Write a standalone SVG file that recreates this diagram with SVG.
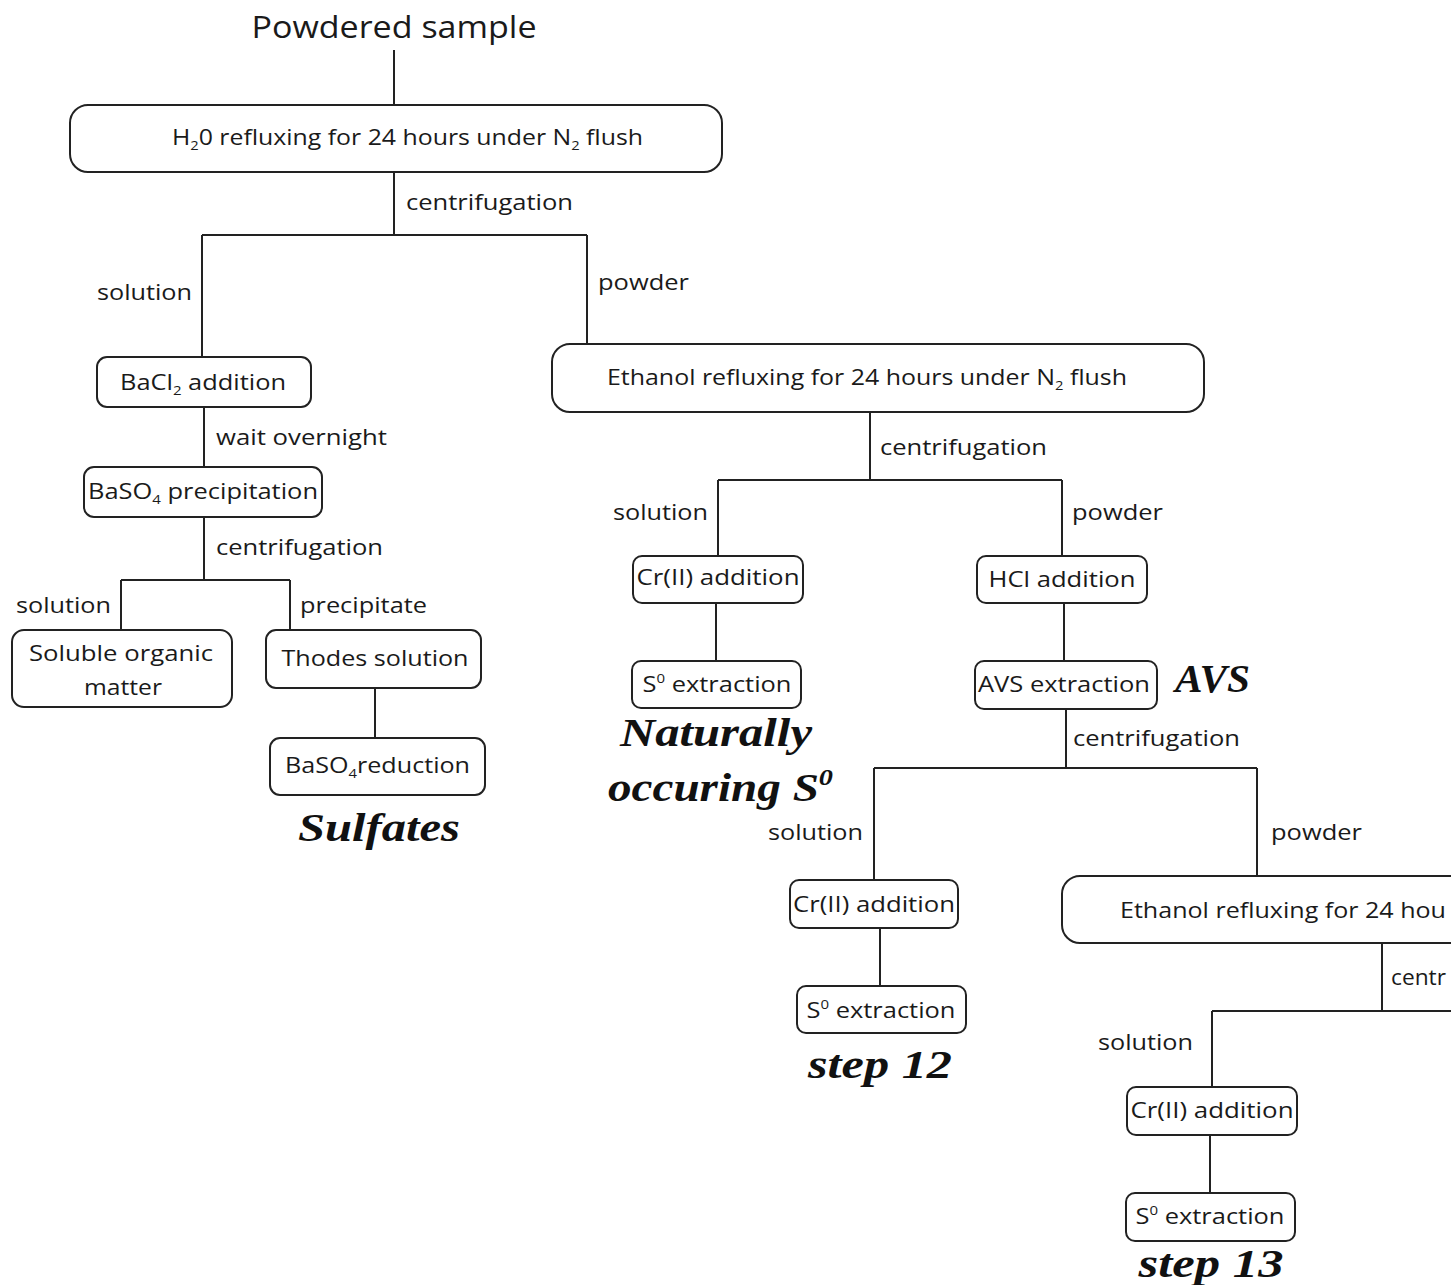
<svg xmlns="http://www.w3.org/2000/svg" width="1451" height="1285" viewBox="0 0 1451 1285">
<style>
.box{fill:#fff;stroke:#222;stroke-width:2}
.ln{fill:none;stroke:#222;stroke-width:2}
.t{font-family:"Open Sans","Liberation Sans",sans-serif;font-size:22px;fill:#1a1a1a}
.c{text-anchor:middle}
.big{font-family:"Liberation Serif",serif;font-weight:bold;font-style:italic;font-size:40px;fill:#111}
.sub{font-size:13px}
</style>
<rect width="1451" height="1285" fill="#fff"/>
<g id="connectors">
<path class="ln" d="M394 50V105M394 172V235M202 235H587M202 235V357M587 235V344"/>
<path class="ln" d="M204 407V467M204 517V580M121 580H290M121 580V630M290 580V630M375 688V738"/>
<path class="ln" d="M870 412V480M718 480H1062M718 480V556M1062 480V556M716 603V661M1064 603V661"/>
<path class="ln" d="M1066 709V768M874 768H1257M874 768V880M1257 768V876M880 928V986"/>
<path class="ln" d="M1382 943V1011M1212 1011H1451M1212 1011V1087M1210 1135V1193"/>
<text class="t" x="406" y="210" textLength="167" lengthAdjust="spacingAndGlyphs">centrifugation</text>
<text class="t" x="97" y="300" textLength="95" lengthAdjust="spacingAndGlyphs">solution</text>
<text class="t" x="598" y="290" textLength="91" lengthAdjust="spacingAndGlyphs">powder</text>
<text class="t" x="216" y="445" textLength="171" lengthAdjust="spacingAndGlyphs">wait overnight</text>
<text class="t" x="216" y="555" textLength="167" lengthAdjust="spacingAndGlyphs">centrifugation</text>
<text class="t" x="16" y="613" textLength="95" lengthAdjust="spacingAndGlyphs">solution</text>
<text class="t" x="300" y="613" textLength="127" lengthAdjust="spacingAndGlyphs">precipitate</text>
<text class="t" x="880" y="455" textLength="167" lengthAdjust="spacingAndGlyphs">centrifugation</text>
<text class="t" x="613" y="520" textLength="95" lengthAdjust="spacingAndGlyphs">solution</text>
<text class="t" x="1072" y="520" textLength="91" lengthAdjust="spacingAndGlyphs">powder</text>
<text class="t" x="1073" y="746" textLength="167" lengthAdjust="spacingAndGlyphs">centrifugation</text>
<text class="t" x="768" y="840" textLength="95" lengthAdjust="spacingAndGlyphs">solution</text>
<text class="t" x="1271" y="840" textLength="91" lengthAdjust="spacingAndGlyphs">powder</text>
<text class="t" x="1391" y="985" textLength="55" lengthAdjust="spacingAndGlyphs">centr</text>
<text class="t" x="1098" y="1050" textLength="95" lengthAdjust="spacingAndGlyphs">solution</text>
</g>
<g id="title"><text class="t" x="394" y="38" style="font-size:31px" text-anchor="middle" textLength="285" lengthAdjust="spacingAndGlyphs">Powdered sample</text></g>
<g id="n-h2o"><rect class="box" x="70" y="105" width="652" height="67" rx="18"/>
<text class="t" x="172" y="145" textLength="471" lengthAdjust="spacingAndGlyphs">H<tspan class="sub" dy="5">2</tspan><tspan dy="-5">0 refluxing for 24 hours under N</tspan><tspan class="sub" dy="5">2</tspan><tspan dy="-5"> flush</tspan></text></g>
<g id="n-bacl2"><rect class="box" x="97" y="357" width="214" height="50" rx="10"/>
<text class="t" x="120" y="390" textLength="166" lengthAdjust="spacingAndGlyphs">BaCl<tspan class="sub" dy="5">2</tspan><tspan dy="-5"> addition</tspan></text></g>
<g id="n-baso4p"><rect class="box" x="84" y="467" width="238" height="50" rx="10"/>
<text class="t" x="88" y="499" textLength="230" lengthAdjust="spacingAndGlyphs">BaSO<tspan class="sub" dy="5">4</tspan><tspan dy="-5"> precipitation</tspan></text></g>
<g id="n-som"><rect class="box" x="12" y="630" width="220" height="77" rx="12"/>
<text class="t c" x="121" y="661" textLength="184" lengthAdjust="spacingAndGlyphs">Soluble organic</text>
<text class="t c" x="123" y="695" textLength="78" lengthAdjust="spacingAndGlyphs">matter</text></g>
<g id="n-thodes"><rect class="box" x="266" y="630" width="215" height="58" rx="10"/>
<text class="t c" x="375" y="666" textLength="187" lengthAdjust="spacingAndGlyphs">Thodes solution</text></g>
<g id="n-baso4r"><rect class="box" x="270" y="738" width="215" height="57" rx="10"/>
<text class="t" x="285" y="773" textLength="185" lengthAdjust="spacingAndGlyphs">BaSO<tspan class="sub" dy="5">4</tspan><tspan dy="-5">reduction</tspan></text></g>
<g id="l-sulfates"><text class="big c" x="379" y="841" textLength="162" lengthAdjust="spacingAndGlyphs">Sulfates</text></g>
<g id="n-eth1"><rect class="box" x="552" y="344" width="652" height="68" rx="18"/>
<text class="t" x="607" y="385" textLength="520" lengthAdjust="spacingAndGlyphs">Ethanol refluxing for 24 hours under N<tspan class="sub" dy="5">2</tspan><tspan dy="-5"> flush</tspan></text></g>
<g id="n-cr1"><rect class="box" x="633" y="556" width="170" height="47" rx="9"/>
<text class="t c" x="718" y="585" textLength="163" lengthAdjust="spacingAndGlyphs">Cr(II) addition</text></g>
<g id="n-s01"><rect class="box" x="632" y="661" width="169" height="47" rx="9"/>
<text class="t c" x="717" y="692" textLength="149" lengthAdjust="spacingAndGlyphs">S<tspan class="sub" dy="-9">0</tspan><tspan dy="9"> extraction</tspan></text></g>
<g id="l-natural"><text class="big c" x="716" y="746" textLength="192" lengthAdjust="spacingAndGlyphs">Naturally</text>
<text class="big" x="608" y="801" textLength="225" lengthAdjust="spacingAndGlyphs">occuring S<tspan style="font-size:24px" dy="-16">0</tspan></text></g>
<g id="n-hcl"><rect class="box" x="977" y="556" width="170" height="47" rx="9"/>
<text class="t c" x="1062" y="587" textLength="147" lengthAdjust="spacingAndGlyphs">HCl addition</text></g>
<g id="n-avs"><rect class="box" x="975" y="661" width="182" height="48" rx="9"/>
<text class="t c" x="1064" y="692" textLength="172" lengthAdjust="spacingAndGlyphs">AVS extraction</text></g>
<g id="l-avs"><text class="big" x="1175" y="692" textLength="75" lengthAdjust="spacingAndGlyphs">AVS</text></g>
<g id="n-cr2"><rect class="box" x="790" y="880" width="168" height="48" rx="9"/>
<text class="t c" x="874" y="912" textLength="162" lengthAdjust="spacingAndGlyphs">Cr(II) addition</text></g>
<g id="n-s02"><rect class="box" x="797" y="986" width="169" height="47" rx="9"/>
<text class="t c" x="881" y="1018" textLength="149" lengthAdjust="spacingAndGlyphs">S<tspan class="sub" dy="-9">0</tspan><tspan dy="9"> extraction</tspan></text></g>
<g id="l-step12"><text class="big c" x="880" y="1078" textLength="144" lengthAdjust="spacingAndGlyphs">step 12</text></g>
<g id="n-eth2"><path class="box" d="M1452 876H1080A18 18 0 0 0 1062 894V925A18 18 0 0 0 1080 943H1452"/>
<text class="t" x="1120" y="918" textLength="326" lengthAdjust="spacingAndGlyphs">Ethanol refluxing for 24 hou</text></g>
<g id="n-cr3"><rect class="box" x="1127" y="1087" width="170" height="48" rx="9"/>
<text class="t c" x="1212" y="1118" textLength="163" lengthAdjust="spacingAndGlyphs">Cr(II) addition</text></g>
<g id="n-s03"><rect class="box" x="1126" y="1193" width="169" height="48" rx="9"/>
<text class="t c" x="1210" y="1224" textLength="149" lengthAdjust="spacingAndGlyphs">S<tspan class="sub" dy="-9">0</tspan><tspan dy="9"> extraction</tspan></text></g>
<g id="l-step13"><text class="big c" x="1211" y="1277" textLength="145" lengthAdjust="spacingAndGlyphs">step 13</text></g>
</svg>
